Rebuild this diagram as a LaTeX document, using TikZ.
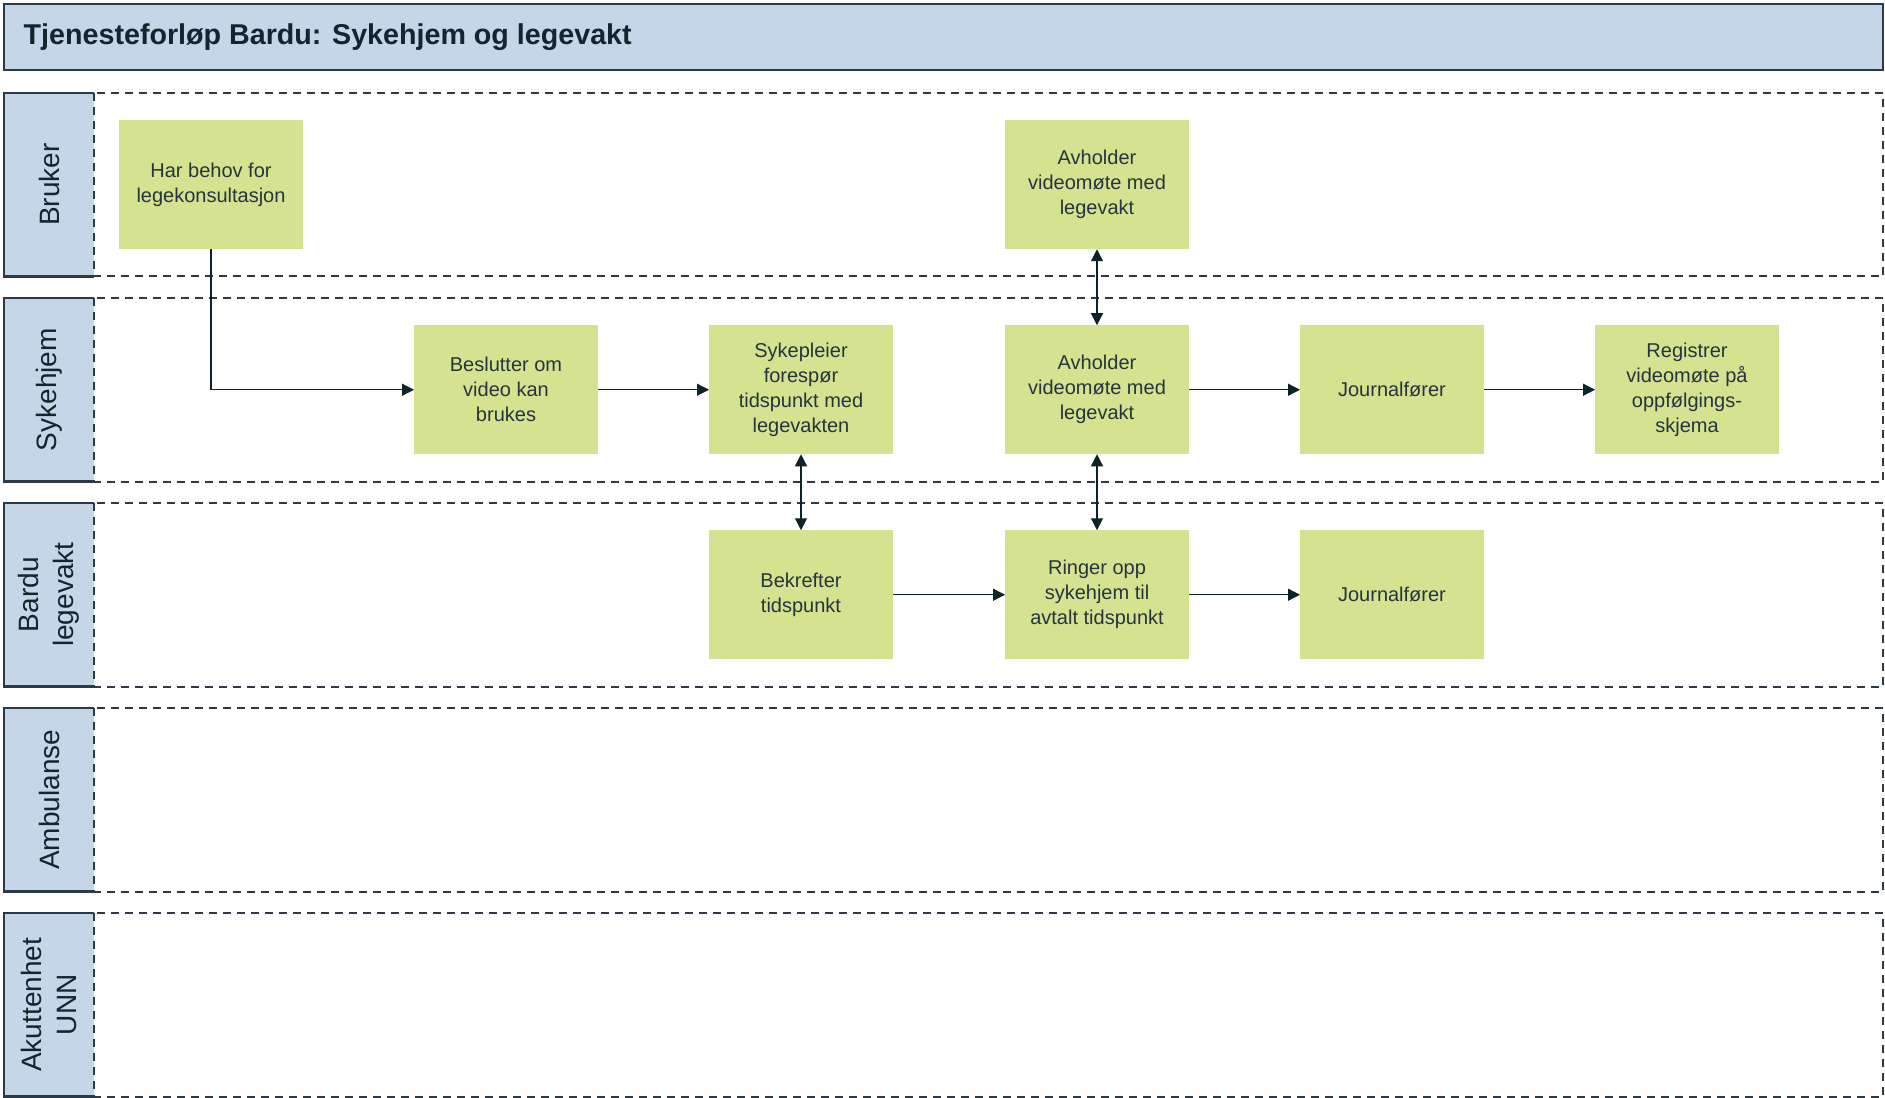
\documentclass[tikz,border=0pt]{standalone}
\usepackage{fontspec}
\setmainfont{Liberation Sans}
\usetikzlibrary{arrows.meta}
\definecolor{lanefill}{HTML}{C4D6E7}
\definecolor{laneline}{HTML}{2C3A48}
\definecolor{taskfill}{HTML}{D5E290}
\definecolor{tasktext}{HTML}{26343F}
\definecolor{headtext}{HTML}{14252F}
\definecolor{arrowc}{HTML}{0E2329}
\begin{document}
\begin{tikzpicture}[x=0.75pt, y=-0.75pt,
  task/.style={fill=taskfill, text=tasktext, minimum width=138pt, minimum height=96.75pt,
    align=center, inner sep=2pt, outer sep=0pt, font=\fontsize{15}{18.75}\selectfont},
  lanelabel/.style={rotate=90, align=center, text=headtext, font=\fontsize{21}{26}\selectfont},
  headline/.style={draw=laneline, line width=2.2pt},
  laneborder/.style={draw=laneline, line width=1.5pt, dash pattern=on 6pt off 4.5pt},
  flow/.style={draw=arrowc, line width=0.9pt, -{Triangle[length=9pt,width=9pt]}},
  twoway/.style={draw=arrowc, line width=0.9pt, {Triangle[length=9pt,width=9pt]}-{Triangle[length=9pt,width=9pt]}}]
\useasboundingbox (0,0) rectangle (1885,1098);
% title
\draw[headline, fill=lanefill] (4,4) rectangle (1883,70);
\node[anchor=west, text=headtext, font=\bfseries\fontsize{21.5}{26}\selectfont] (title) at (19,37) {Tjenesteforløp Bardu: Sykehjem og legevakt};
% lanes
\fill[lanefill] (4,93) rectangle (94,276.5);
\draw[headline] (94,93) -- (4,93) -- (4,276.5) -- (94,276.5);
\draw[laneborder] (94,93) rectangle (1883,276.5);
\node[lanelabel] (bruker) at (49,184.75) {Bruker};
\fill[lanefill] (4,298) rectangle (94,481.5);
\draw[headline] (94,298) -- (4,298) -- (4,481.5) -- (94,481.5);
\draw[laneborder] (94,298) rectangle (1883,481.5);
\node[lanelabel] (sykehjem) at (49,389.75) {Sykehjem};
\fill[lanefill] (4,503) rectangle (94,686.5);
\draw[headline] (94,503) -- (4,503) -- (4,686.5) -- (94,686.5);
\draw[laneborder] (94,503) rectangle (1883,686.5);
\node[lanelabel] (legevakt) at (49,594.75) {Bardu\\legevakt};
\fill[lanefill] (4,708) rectangle (94,891.5);
\draw[headline] (94,708) -- (4,708) -- (4,891.5) -- (94,891.5);
\draw[laneborder] (94,708) rectangle (1883,891.5);
\node[lanelabel] (ambulanse) at (49,799.75) {Ambulanse};
\fill[lanefill] (4,913) rectangle (94,1096.5);
\draw[headline] (94,913) -- (4,913) -- (4,1096.5) -- (94,1096.5);
\draw[laneborder] (94,913) rectangle (1883,1096.5);
\node[lanelabel] (unn) at (49,1004.75) {Akuttenhet\\UNN};
% tasks
\node[task] (behov) at (211,184.75) {Har behov for\\legekonsultasjon};
\node[task] (motebruker) at (1097,184.75) {Avholder\\videomøte med\\legevakt};
\node[task] (beslutter) at (506,389.75) {Beslutter om\\video kan\\brukes};
\node[task] (foresp) at (801,389.75) {Sykepleier\\forespør\\tidspunkt med\\legevakten};
\node[task] (motesyk) at (1097,389.75) {Avholder\\videomøte med\\legevakt};
\node[task] (journalsyk) at (1392,389.75) {Journalfører};
\node[task] (registrer) at (1687,389.75) {Registrer\\videomøte på\\oppfølgings-\\skjema};
\node[task] (bekrefter) at (801,594.75) {Bekrefter\\tidspunkt};
\node[task] (ringer) at (1097,594.75) {Ringer opp\\sykehjem til\\avtalt tidspunkt};
\node[task] (journallege) at (1392,594.75) {Journalfører};
% connectors
\draw[flow] (behov.south) |- (beslutter.west);
\draw[flow] (beslutter) -- (foresp);
\draw[twoway] (foresp) -- (bekrefter);
\draw[flow] (bekrefter) -- (ringer);
\draw[twoway] (motesyk) -- (motebruker);
\draw[twoway] (motesyk) -- (ringer);
\draw[flow] (motesyk) -- (journalsyk);
\draw[flow] (journalsyk) -- (registrer);
\draw[flow] (ringer) -- (journallege);
\end{tikzpicture}
\end{document}
